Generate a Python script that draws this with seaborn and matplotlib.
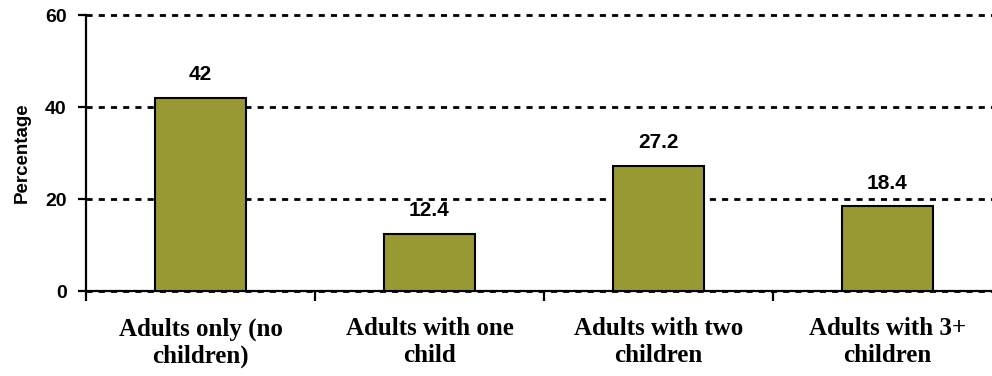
import numpy as np
import pandas as pd
import seaborn as sns
import matplotlib.pyplot as plt

categories = ["Adults only (no\nchildren)", "Adults with one\nchild",
              "Adults with two\nchildren", "Adults with 3+\nchildren"]
values = [42, 12.4, 27.2, 18.4]
value_labels = ["42", "12.4", "27.2", "18.4"]

df = pd.DataFrame({"group": categories, "pct": values})

sns.set_style("white")
plt.rcParams['font.family'] = ['Liberation Sans', 'DejaVu Sans']
plt.rcParams.update({"text.color": "black", "axes.labelcolor": "black",
                     "xtick.color": "black", "ytick.color": "black"})

fig = plt.figure(figsize=(9.92, 3.76), dpi=100)
ax = fig.add_axes([86 / 992, 1 - 291 / 376, 916 / 992, 276 / 376])

sns.barplot(data=df, x="group", y="pct", color="#999933", saturation=1,
            width=0.4, edgecolor="black", linewidth=1.5, ax=ax, zorder=3)

ax.set_xlim(-0.5, 3.5)
ax.set_ylim(0, 60)
ax.set_yticks([0, 20, 40, 60])
ax.yaxis.grid(True, color="black", linestyle=(0, (2.2, 2.2)), linewidth=2, zorder=0)
for gl in ax.get_ygridlines():
    gl.set_clip_on(False)
ax.set_axisbelow(True)

for sp in ["top", "right"]:
    ax.spines[sp].set_visible(False)
for sp in ["left", "bottom"]:
    ax.spines[sp].set_linewidth(1.6)
    ax.spines[sp].set_color("black")

# labels on top of bars
for i, (v, lab) in enumerate(zip(values, value_labels)):
    ax.text(i, v + 3.0, lab, ha="center", va="bottom", fontsize=15,
            fontweight="bold")

ax.tick_params(axis="y", direction="out", length=6, width=1.6, labelsize=14, pad=8,
               left=True)
for t in ax.get_yticklabels():
    t.set_fontweight("bold")

ax.tick_params(axis="x", which="major", length=0, pad=19)
ax.set_xticks([-0.5, 0.5, 1.5, 2.5], minor=True)
ax.tick_params(axis="x", which="minor", direction="out", length=7, width=1.6, bottom=True)
for t in ax.get_xticklabels():
    t.set_fontfamily("Liberation Serif")
    t.set_fontweight("bold")
    t.set_fontsize(18)

ax.set_xlabel("")
ax.set_ylabel("Percentage", fontsize=13.5, fontweight="bold", labelpad=10)

fig.savefig("out.png", dpi=100)
